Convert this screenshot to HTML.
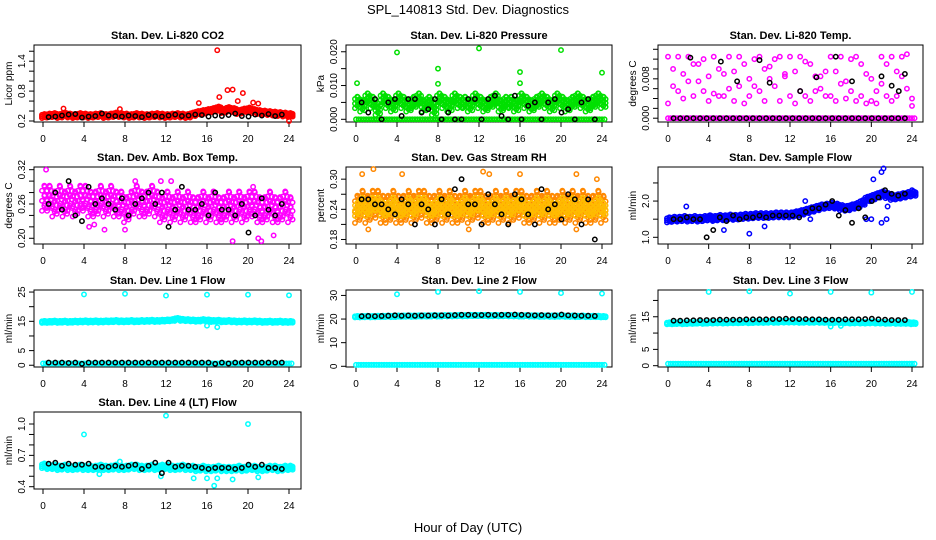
<!DOCTYPE html>
<html><head><meta charset="utf-8"><style>
body{margin:0;background:#fff;}
svg{display:block;font-family:"Liberation Sans",Arial,sans-serif;}
</style></head><body>
<svg id="chart" width="936" height="540" viewBox="0 0 936 540">
<text x="468" y="14" text-anchor="middle" font-size="13">SPL_140813  Std. Dev. Diagnostics</text>
<text x="468" y="532" text-anchor="middle" font-size="13">Hour of Day (UTC)</text>
</svg>
<script>
// ---- data ----
const hourTicks=[0,4,8,12,16,20,24];
const co2Red=[0.30,0.31,0.32,0.30,0.33,0.31,0.30,0.32,0.31,0.30,0.31,0.32,0.30,0.31,0.33,0.32,0.31,0.30,0.32,0.31,0.30,0.31,0.32,0.31,0.30,0.31,0.32,0.31,0.30,0.33,0.36,0.38,0.40,0.42,0.45,0.40,0.44,0.42,0.38,0.41,0.43,0.40,0.38,0.37,0.36,0.35,0.34,0.33,0.32];
const co2Out=[[2,0.45],[7.5,0.44],[15.2,0.56],[17,1.62],[17.2,0.68],[18,0.82],[18.5,0.83],[19,0.6],[19.5,0.76],[20.5,0.57],[21,0.55],[24,0.2]];
const co2Black=[0.28,0.29,0.31,0.33,0.34,0.27,0.29,0.30,0.35,0.31,0.30,0.29,0.31,0.30,0.28,0.32,0.30,0.29,0.31,0.33,0.30,0.31,0.33,0.32,0.29,0.31,0.30,0.32,0.35,0.30,0.29,0.33,0.31,0.34,0.30,0.33];
const pressGreen=[0.005,0.004,0.006,0.005,0.003,0.006,0.005,0.004,0.006,0.005,0.004,0.005,0.006,0.004,0.005,0.003,0.006,0.005,0.004,0.006,0.005,0.005,0.004,0.006,0.005,0.004,0.005,0.006,0.004,0.005,0.005,0.004,0.006,0.005,0.004,0.005,0.006,0.005,0.004,0.006,0.005,0.004,0.005,0.006,0.005,0.004,0.005,0.006,0.005];
const pressBase=0;
const pressOut=[[0.1,0.0107],[4,0.0198],[8,0.015],[8,0.0105],[12,0.021],[16,0.014],[16,0.0107],[20,0.0205],[24,0.0138]];
const pressBlack=[0.005,0.002,0.006,0.0,0.005,0.006,0.001,0.006,0.006,0.002,0.003,0.006,0.0,0.002,0.0,0.0,0.006,0.006,0.0,0.006,0.007,0.001,0.0,0.007,0.0,0.004,0.005,0.0,0.005,0.006,0.002,0.003,0.0,0.005,0.006,0.0];
const tempA=[0.0125,0.010,0.0125,0.009,0.0125,0.011,0.0075,0.012,0.0085,0.0125,0.010,0.0045,0.0125,0.0095,0.0125,0.011,0.008,0.012,0.0125,0.010,0.0105,0.012,0.0125,0.0085,0.0125,0.0095,0.0125,0.0045,0.011,0.0085,0.0085,0.0045,0.0125,0.0095,0.0125,0.0075,0.012,0.0035,0.011,0.009,0.0080,0.003,0.0125,0.011,0.0125,0.0045,0.0125,0.0130,0.004];
const tempB=[0.003,0.0065,0.0055,0.004,0.0075,0.0045,0.011,0.0055,0.0035,0.005,0.0045,0.009,0.006,0.0035,0.0065,0.003,0.0045,0.0065,0.0055,0.0035,0.008,0.0065,0.0035,0.009,0.0045,0.003,0.0055,0.0115,0.0035,0.0055,0.006,0.0095,0.0045,0.0035,0.007,0.004,0.0055,0.0125,0.0045,0.003,0.0035,0.0055,0.0070,0.0045,0.0035,0.0095,0.0085,0.006,0.0025];
const tempBase=0;
const tempBlackOut=[[2.2,0.0123],[5.2,0.0115],[6.8,0.0075],[9,0.0118],[10,0.0072],[13,0.0055],[14.6,0.0083],[16.5,0.0125],[18.1,0.0075],[21,0.0085],[22,0.0066],[22.7,0.0055],[23.3,0.009]];
const ambMag=[0.27,0.27,0.26,0.27,0.26,0.27,0.26,0.27,0.27,0.26,0.26,0.27,0.26,0.27,0.26,0.26,0.25,0.26,0.27,0.26,0.26,0.27,0.26,0.25,0.26,0.25,0.26,0.25,0.26,0.25,0.25,0.26,0.25,0.26,0.25,0.25,0.26,0.25,0.26,0.25,0.26,0.26,0.25,0.25,0.26,0.25,0.25,0.26,0.25];
const ambOut=[[0.3,0.32],[4.5,0.22],[5,0.224],[6,0.215],[8,0.215],[9,0.3],[11.5,0.3],[12.5,0.3],[18.5,0.195],[21,0.2],[21.3,0.195],[22.5,0.205],[20.5,0.29]];
const ambBlack=[0.26,0.28,0.25,0.30,0.24,0.23,0.29,0.26,0.27,0.26,0.25,0.27,0.24,0.26,0.27,0.28,0.26,0.28,0.22,0.25,0.29,0.25,0.25,0.26,0.24,0.28,0.25,0.25,0.24,0.26,0.21,0.24,0.27,0.25,0.24,0.26];
const rhOrange=[0.24,0.25,0.24,0.25,0.25,0.24,0.24,0.25,0.24,0.24,0.25,0.24,0.25,0.25,0.24,0.24,0.25,0.24,0.25,0.24,0.24,0.25,0.24,0.25,0.25,0.24,0.24,0.25,0.24,0.25,0.24,0.25,0.25,0.24,0.24,0.25,0.24,0.25,0.24,0.24,0.25,0.24,0.25,0.24,0.25,0.24,0.24,0.25,0.24];
const rhOut=[[0.6,0.31],[1.7,0.32],[4.5,0.31],[12.4,0.315],[13,0.31],[16,0.31],[21.5,0.31],[23.5,0.3],[1.2,0.20],[11,0.2],[21.5,0.2]];
const rhBlack=[0.26,0.26,0.25,0.25,0.24,0.23,0.26,0.25,0.21,0.25,0.24,0.21,0.26,0.23,0.28,0.30,0.25,0.25,0.21,0.27,0.25,0.23,0.21,0.27,0.26,0.23,0.21,0.28,0.24,0.25,0.22,0.27,0.26,0.21,0.26,0.18];
const flowBlue=[1.48,1.5,1.5,1.52,1.5,1.52,1.5,1.52,1.54,1.52,1.55,1.54,1.56,1.55,1.56,1.58,1.58,1.6,1.6,1.6,1.6,1.62,1.62,1.62,1.62,1.65,1.68,1.72,1.76,1.8,1.84,1.86,1.88,1.86,1.82,1.8,1.84,1.88,1.95,2.05,2.1,2.15,2.2,2.15,2.1,2.12,2.15,2.18,2.2];
const flowOut=[[1.8,1.85],[5.5,1.2],[8,1.1],[9.5,1.3],[13.5,2.0],[14,1.5],[19.5,1.5],[20.2,2.6],[21,2.8],[21.2,2.9],[21.6,1.85],[20,1.5],[21,1.4],[21.5,1.5],[24,2.3]];
const flowBlack=[1.5,1.5,1.55,1.5,1.5,1.0,1.2,1.55,1.45,1.6,1.5,1.55,1.55,1.6,1.55,1.6,1.6,1.6,1.6,1.55,1.7,1.8,1.8,1.9,2.0,1.6,1.75,1.4,1.8,1.55,2.0,2.1,2.3,2.2,2.15,2.2];
const l1Cyan=[14.8,14.8,14.9,14.8,14.9,14.8,14.9,14.9,15.0,14.9,15.0,14.9,15.0,15.0,15.1,15.0,15.0,15.1,15.0,15.1,15.1,15.2,15.1,15.2,15.3,15.4,15.8,15.5,15.4,15.3,15.2,15.4,15.3,15.1,15.2,15.0,15.1,15.0,14.9,15.0,14.9,15.0,14.9,14.8,14.9,14.8,14.9,14.8,14.8];
const l1Out=[[4,24.2],[8,24.4],[12,23.8],[16,24.1],[20,24.1],[24,23.9],[16,13.5],[17,13]];
const l1Black=[0.9,0.9,0.9,0.8,0.9,0.5,0.9,0.9,0.9,0.9,0.9,0.9,0.9,0.9,0.9,0.9,0.9,0.9,0.9,0.9,0.9,0.9,0.9,0.9,0.9,0.5,0.9,0.6,0.9,0.9,0.9,0.9,0.9,0.9,0.9,0.9];
const l2Cyan=[21.0,21.0,21.1,21.0,21.1,21.1,21.2,21.1,21.2,21.2,21.3,21.2,21.3,21.3,21.3,21.4,21.3,21.4,21.4,21.4,21.5,21.4,21.5,21.5,21.5,21.5,21.4,21.5,21.4,21.5,21.4,21.4,21.3,21.4,21.3,21.3,21.2,21.3,21.2,21.2,21.3,21.2,21.2,21.1,21.2,21.1,21.1,21.1,21.0];
const l2Out=[[4,30.5],[8,31.5],[12,31.8],[16,31.5],[20,31],[24,30.8]];
const l2Black=[21.2,21.3,21.2,21.3,21.4,21.6,21.4,21.5,21.4,21.5,21.5,21.6,21.6,21.5,21.7,21.8,21.8,21.7,21.7,21.8,21.7,21.8,21.8,21.9,21.8,21.7,21.6,21.7,21.6,21.6,21.9,21.6,21.5,21.4,21.4,21.3];
const l3Cyan=[13.0,13.0,13.1,13.0,13.1,13.1,13.2,13.1,13.2,13.2,13.3,13.2,13.3,13.3,13.3,13.4,13.3,13.4,13.4,13.4,13.5,13.4,13.5,13.5,13.5,13.5,13.4,13.5,13.4,13.5,13.4,13.4,13.3,13.4,13.3,13.3,13.2,13.3,13.2,13.2,13.3,13.2,13.2,13.1,13.2,13.1,13.1,13.1,13.0];
const l3Out=[[4,22.6],[8,22.8],[12,22.1],[16,22.6],[20,22.4],[24,22.6],[16,12],[17,12.2]];
const l3Black=[13.8,13.8,13.9,13.9,14.0,14.0,14.0,14.1,14.1,14.1,14.1,14.2,14.2,14.2,14.2,14.3,14.3,14.4,14.3,14.3,14.3,14.2,14.2,14.1,14.1,14.1,14.2,14.2,14.2,14.3,14.4,14.2,14.1,14.0,14.0,14.0];
const l4Cyan=[0.60,0.59,0.59,0.58,0.59,0.58,0.58,0.59,0.58,0.58,0.58,0.59,0.58,0.58,0.59,0.58,0.58,0.59,0.59,0.58,0.58,0.59,0.58,0.59,0.59,0.58,0.58,0.59,0.58,0.58,0.57,0.58,0.57,0.57,0.58,0.57,0.57,0.57,0.58,0.57,0.58,0.58,0.57,0.57,0.58,0.58,0.57,0.58,0.58];
const l4Out=[[4,0.9],[12,1.08],[20,1.0],[16.7,0.41],[18.5,0.47],[5.5,0.52],[14.7,0.48],[16,0.48],[17,0.48],[21,0.49],[7.5,0.64],[11.5,0.5]];
const l4Black=[0.62,0.63,0.60,0.62,0.61,0.61,0.62,0.59,0.59,0.59,0.60,0.59,0.60,0.61,0.57,0.60,0.63,0.53,0.63,0.59,0.60,0.60,0.59,0.58,0.57,0.58,0.58,0.58,0.57,0.58,0.61,0.59,0.61,0.58,0.58,0.57];

const svg=document.getElementById('chart');
const NS='http://www.w3.org/2000/svg';
function mk(tag,attrs,parent){const e=document.createElementNS(NS,tag);for(const k in attrs)e.setAttribute(k,attrs[k]);(parent||svg).appendChild(e);return e;}
const colX=[{l:34,r:301,x0:43,x24:289},{l:346,r:612,x0:356,x24:602},{l:658,r:923,x0:668,x24:912}];
const rowY=[45,167,290,412];const H=77;
const blackHours=co2Black.map((_,i)=>0.55+i*0.65);
const colHours=co2Red.map((_,i)=>i*0.5);
const bandK=[-1,-0.6,-0.2,0.2,0.6,1];

function panel(name,c,r,title,ylab,ylo,yhi,ticks,labels){
  const C=colX[c],top=rowY[r],bot=top+H;
  const g=mk('g',{});
  
  
  const sx=h=>C.x0+(C.x24-C.x0)*h/24;
  const sy=v=>bot-(v-ylo)/(yhi-ylo)*H;
  const box=mk('rect',{x:C.l,y:top,width:C.r-C.l,height:H,fill:'none',stroke:'#000','stroke-width':1},g);
  
  
  const t=mk('text',{x:(C.l+C.r)/2,y:top-6,'text-anchor':'middle','font-size':11,'font-weight':'bold'},g);t.textContent=title;
  
  
  const yl=mk('text',{transform:`translate(${C.l-22},${(top+bot)/2}) rotate(-90)`,'text-anchor':'middle','font-size':10},g);yl.textContent=ylab;
  
  
  hourTicks.forEach(h=>{
    mk('line',{x1:sx(h),x2:sx(h),y1:bot,y2:bot+5,stroke:'#000'},g);
    const tx=mk('text',{x:sx(h),y:bot+20,'text-anchor':'middle','font-size':10},g);tx.textContent=h;
    
    
  });
  ticks.forEach((v,i)=>{
    mk('line',{x1:C.l,x2:C.l-5,y1:sy(v),y2:sy(v),stroke:'#000'},g);
    if(labels[i]!==''){
      const ty=mk('text',{transform:`translate(${C.l-9},${sy(v)}) rotate(-90)`,'text-anchor':'middle','font-size':10},g);ty.textContent=labels[i];
      
      
    }
  });
  const pts=mk('g',{fill:'none','stroke-width':1.5},g);
  function pt(h,v,col){
    if(v<ylo||v>yhi)return;
    const e=mk('circle',{cx:sx(h),cy:sy(v),r:2.2,stroke:col},pts);
    
    
  }
  return {band(vals,bw,col){vals.forEach((v,i)=>{bandK.forEach((k,j)=>{pt(colHours[i]+(j%2?0.13:-0.1),v+k*bw,col);pt(colHours[i]+0.25+(j%2?-0.08:0.1),v+(k*0.85+0.07)*bw,col);});});},
    series(vals,col){vals.forEach((v,i)=>pt(colHours[i],v,col));},
    base(v,col){colHours.forEach(h=>{pt(h,v,col);pt(h+0.25,v,col);});},
    out(arr,col){arr.forEach(p=>pt(p[0],p[1],col));},
    black(vals){vals.forEach((v,i)=>pt(blackHours[i],v,'#000'));}};
}

let p;
p=panel('panel-co2',0,0,'Stan. Dev. Li-820 CO2','Licor ppm',0.18,1.725,[0.2,0.4,0.6,0.8,1.0,1.2,1.4,1.6],['0.2','','','0.8','','','1.4','']);
p.band(co2Red,0.04,'#ff0000');p.out(co2Out,'#ff0000');p.black(co2Black);
p=panel('panel-pressure',1,0,'Stan. Dev. Li-820 Pressure','kPa',-0.0008,0.022,[0,0.005,0.01,0.015,0.02],['0.000','','0.010','','0.020']);
p.base(pressBase,'#00e000');p.band(pressGreen,0.0017,'#00e000');p.out(pressOut,'#00e000');p.black(pressBlack);
p=panel('panel-temp',2,0,'Stan. Dev. Li-820 Temp.','degrees C',-0.00077,0.01487,[0,0.002,0.004,0.006,0.008,0.01,0.012,0.014],['0.000','','','','0.008','','','']);
p.base(tempBase,'#ff00ff');p.series(tempA,'#ff00ff');p.series(tempB,'#ff00ff');p.black(co2Black.map(()=>tempBase));p.out(tempBlackOut,'#000');
p=panel('panel-amb-temp',0,1,'Stan. Dev. Amb. Box Temp.','degrees C',0.19,0.3247,[0.20,0.22,0.24,0.26,0.28,0.30,0.32],['0.20','','','0.26','','','0.32']);
p.band(ambMag,0.022,'#ff00ff');p.out(ambOut,'#ff00ff');p.black(ambBlack);
p=panel('panel-rh',1,1,'Stan. Dev. Gas Stream RH','percent',0.171,0.3242,[0.18,0.21,0.24,0.27,0.30],['0.18','','0.24','','0.30']);
p.band(rhOrange,0.027,'#ff8800');p.band(rhOrange,0.013,'#ffbb00');p.out(rhOut,'#ff8800');p.black(rhBlack);
p=panel('panel-sample-flow',2,1,'Stan. Dev. Sample Flow','ml/min',0.815,2.94,[1.0,1.5,2.0,2.5],['1.0','','2.0','']);
p.band(flowBlue,0.07,'#0000ff');p.out(flowOut,'#0000ff');p.black(flowBlack);
p=panel('panel-line1',0,2,'Stan. Dev. Line 1 Flow','ml/min',-0.6,25.7,[0,5,10,15,20,25],['0','5','','15','','25']);
p.band(l1Cyan,0.35,'#00ffff');p.base(0.6,'#00ffff');p.out(l1Out,'#00ffff');p.black(l1Black);
p=panel('panel-line2',1,2,'Stan. Dev. Line 2 Flow','ml/min',-0.3,32.3,[0,10,20,30],['0','10','20','30']);
p.band(l2Cyan,0.3,'#00ffff');p.base(0.6,'#00ffff');p.out(l2Out,'#00ffff');p.black(l2Black);
p=panel('panel-line3',2,2,'Stan. Dev. Line 3 Flow','ml/min',-0.4,23.2,[0,5,10,15,20],['0','5','','15','']);
p.band(l3Cyan,0.3,'#00ffff');p.base(0.6,'#00ffff');p.out(l3Out,'#00ffff');p.black(l3Black);
p=panel('panel-line4',0,3,'Stan. Dev. Line 4 (LT) Flow','ml/min',0.378,1.115,[0.4,0.5,0.6,0.7,0.8,0.9,1.0],['0.4','','','0.7','','','1.0']);
p.band(l4Cyan,0.022,'#00ffff');p.out(l4Out,'#00ffff');p.black(l4Black);
</script>
</body></html>
